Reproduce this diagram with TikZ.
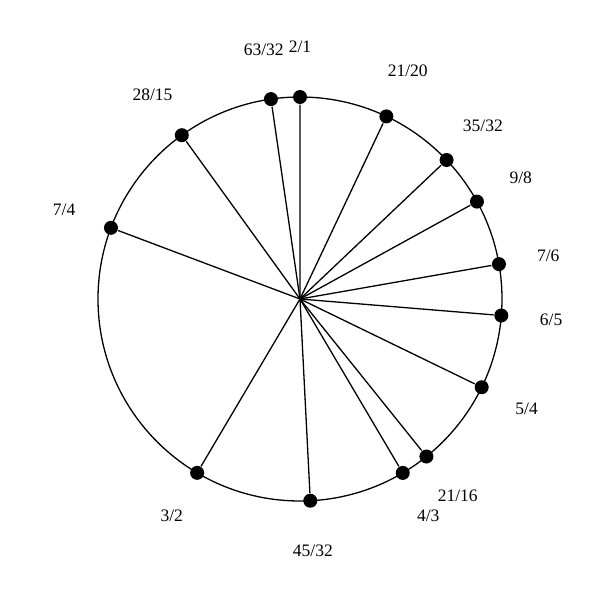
\documentclass[tikz,border=0pt]{standalone}
\usepackage{fontspec}
\setmainfont{Liberation Serif}
\tikzset{
  dot/.style={circle, fill=black, inner sep=0pt, minimum size=14pt},
  ratio/.style={font=\fontsize{17.5}{21}\selectfont, inner sep=0pt}
}
\begin{document}
\begin{tikzpicture}[x=1pt, y=1pt, line width=1.3pt]
\useasboundingbox (-300,-301) rectangle (300,299);
\coordinate (c) at (0,0);
\draw (c) circle (202pt);
\foreach \p/\q [count=\i] in {2/1, 21/20, 35/32, 9/8, 7/6, 6/5, 5/4, 21/16, 4/3, 45/32, 3/2, 7/4, 28/15, 63/32} {
  \pgfmathsetmacro\ang{90-360*ln(\p/\q)/ln(2)}
  \node[dot] (d\i) at (\ang:202pt) {};
  \node[ratio] (l\i) at (\ang:252pt) {\p/\q};
  \draw (c) -- (d\i);
}
\end{tikzpicture}
\end{document}
